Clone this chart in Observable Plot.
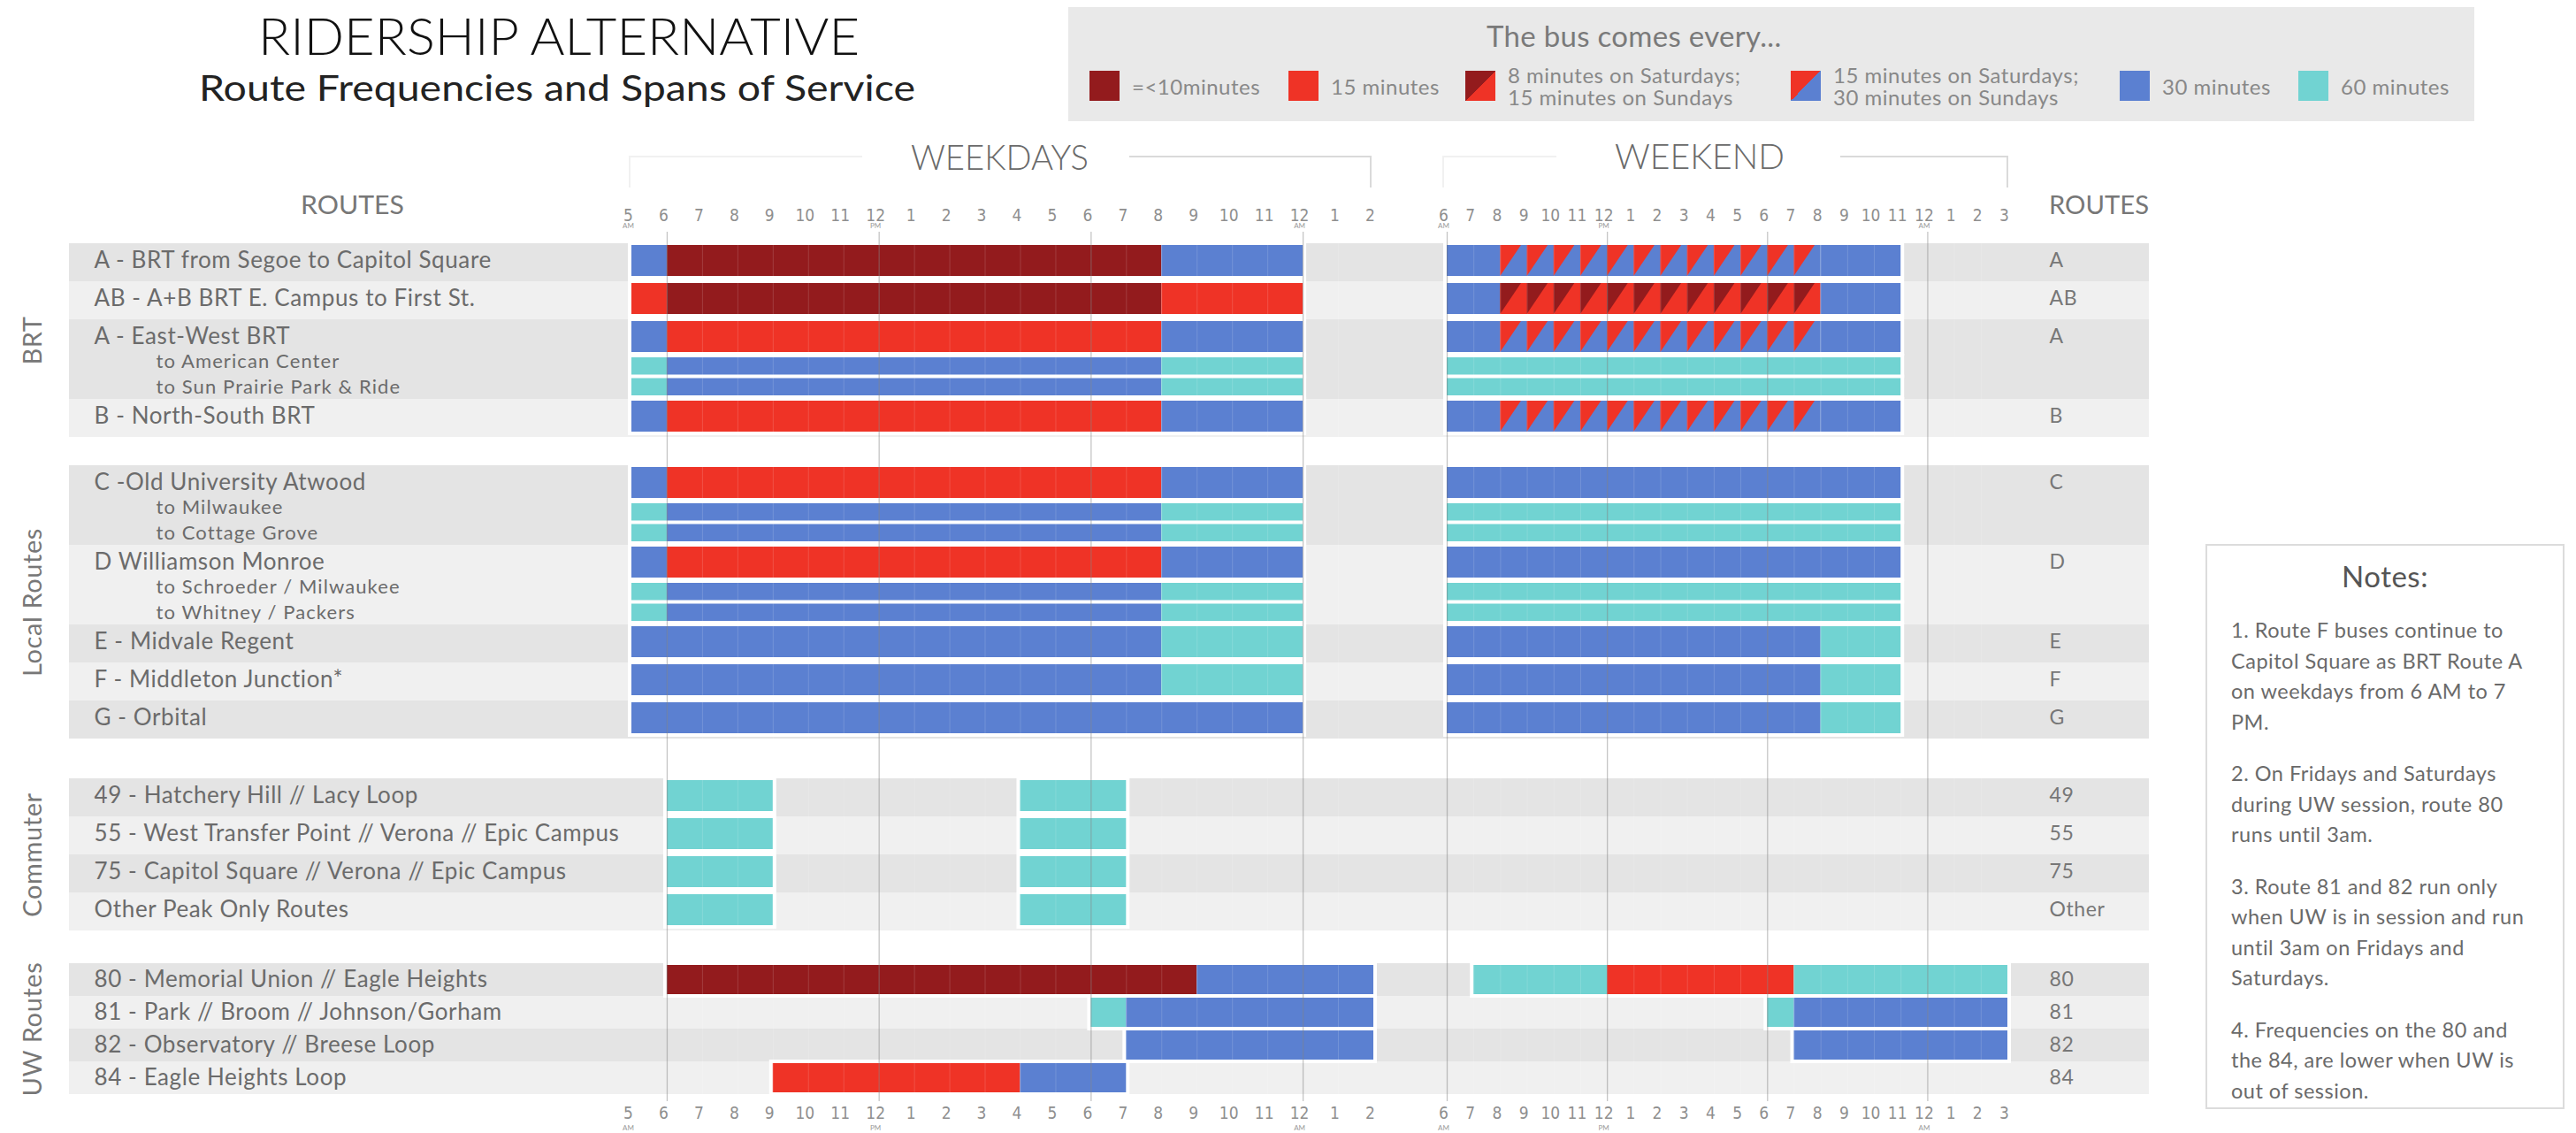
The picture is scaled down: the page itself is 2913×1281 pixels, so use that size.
<!DOCTYPE html>
<html>
<head>
<meta charset="utf-8">
<script src="https://cdn.jsdelivr.net/npm/d3@7"></script>
<script src="https://cdn.jsdelivr.net/npm/@observablehq/plot@0.6"></script>
<style>
  html, body { margin: 0; padding: 0; background: #fff; }
  #root { position: relative; width: 2913px; height: 1281px; overflow: hidden; font-family: Lato, "Open Sans", sans-serif; }
  .layer { position: absolute; left: 0; top: 0; }
  #legend { position: absolute; left: 1208px; top: 8px; width: 1590px; height: 129px; background: #e9e9e9; }
  #legend .head { position: absolute; left: 473px; top: 12px; font-size: 33px; color: #7a7a7a; white-space: nowrap; letter-spacing: 0.3px; }
  #legend .item { position: absolute; top: 72px; height: 34px; display: flex; align-items: center; }
  #legend .sw { width: 34px; height: 34px; flex: none; }
  #legend .lab { margin-left: 14px; font-size: 24px; color: #888; line-height: 25px; letter-spacing: 0.5px; white-space: nowrap; }
  #notes { position: absolute; left: 2494px; top: 615px; width: 406px; height: 639px; border: 2px solid #dcdcdc; background: #fff; box-sizing: border-box; }
  #notes h3 { margin: 0; position: absolute; top: 14px; width: 100%; text-align: center; font-weight: 400; font-size: 33px; color: #555; letter-spacing: 0.5px; }
  #notes .body { position: absolute; left: 27px; top: 78px; width: 378px; font-size: 23.5px; line-height: 34.5px; color: #6a6a6a; letter-spacing: 0.5px; white-space: nowrap; }
  #notes p { margin: 0 0 24px 0; }
</style>
</head>
<body>
<div id="root"></div>
<script>
// ---------------- DATA ----------------
const groupNames = ["BRT", "Local Routes", "Commuter", "UW Routes"];

const routeNames = [
  "A - BRT from Segoe to Capitol Square",
  "AB - A+B BRT E. Campus to First St.",
  "A - East-West BRT",
  "to American Center",
  "to Sun Prairie Park & Ride",
  "B - North-South BRT",
  "C -Old University Atwood",
  "to Milwaukee",
  "to Cottage Grove",
  "D Williamson Monroe",
  "to Schroeder / Milwaukee",
  "to Whitney / Packers",
  "E - Midvale Regent",
  "F - Middleton Junction*",
  "G - Orbital",
  "49 - Hatchery Hill // Lacy Loop",
  "55 - West Transfer Point // Verona // Epic Campus",
  "75 - Capitol Square // Verona // Epic Campus",
  "Other Peak Only Routes",
  "80 - Memorial Union // Eagle Heights",
  "81 - Park // Broom // Johnson/Gorham",
  "82 - Observatory // Breese Loop",
  "84 - Eagle Heights Loop"
];
const routeGroup  = [0,0,0,0,0,0, 1,1,1,1,1,1,1,1,1, 2,2,2,2, 3,3,3,3];
const routeBranch = [0,0,0,1,1,0, 0,1,1,0,1,1,0,0,0, 0,0,0,0, 0,0,0,0];
const routeCodes  = ["A","AB","A","","","B", "C","","","D","","","E","F","G", "49","55","75","Other", "80","81","82","84"];

const weekdayHours = d3.range(5, 27);
const weekdayHourLabels = ["5","6","7","8","9","10","11","12","1","2","3","4","5","6","7","8","9","10","11","12","1","2"];
const weekendHours = d3.range(6, 28);
const weekendHourLabels = ["6","7","8","9","10","11","12","1","2","3","4","5","6","7","8","9","10","11","12","1","2","3"];
const weekdayMeridiem = [[5, "AM"], [12, "PM"], [24, "AM"]];
const weekendMeridiem = [[6, "AM"], [12, "PM"], [24, "AM"]];
const majorHours = [6, 12, 18, 24];

const freqKeys = ["le10", "15", "30", "60"];
const freqSplits = { sat8sun15: ["le10", "15"], sat15sun30: ["15", "30"] };
const legendKeys = ["le10", "15", "sat8sun15", "sat15sun30", "30", "60"];
const legendLabels = ["=<10minutes", "15 minutes", "8 minutes on Saturdays;\n15 minutes on Sundays",
  "15 minutes on Saturdays;\n30 minutes on Sundays", "30 minutes", "60 minutes"];

// [route index, start hour, end hour, frequency]
const weekdaySegments = [
  [0,5,6,"30"],[0,6,20,"le10"],[0,20,24,"30"],
  [1,5,6,"15"],[1,6,20,"le10"],[1,20,24,"15"],
  [2,5,6,"30"],[2,6,20,"15"],[2,20,24,"30"],
  [3,5,6,"60"],[3,6,20,"30"],[3,20,24,"60"],
  [4,5,6,"60"],[4,6,20,"30"],[4,20,24,"60"],
  [5,5,6,"30"],[5,6,20,"15"],[5,20,24,"30"],
  [6,5,6,"30"],[6,6,20,"15"],[6,20,24,"30"],
  [7,5,6,"60"],[7,6,20,"30"],[7,20,24,"60"],
  [8,5,6,"60"],[8,6,20,"30"],[8,20,24,"60"],
  [9,5,6,"30"],[9,6,20,"15"],[9,20,24,"30"],
  [10,5,6,"60"],[10,6,20,"30"],[10,20,24,"60"],
  [11,5,6,"60"],[11,6,20,"30"],[11,20,24,"60"],
  [12,5,20,"30"],[12,20,24,"60"],
  [13,5,20,"30"],[13,20,24,"60"],
  [14,5,24,"30"],
  [15,6,9,"60"],[15,16,19,"60"],
  [16,6,9,"60"],[16,16,19,"60"],
  [17,6,9,"60"],[17,16,19,"60"],
  [18,6,9,"60"],[18,16,19,"60"],
  [19,6,21,"le10"],[19,21,26,"30"],
  [20,18,19,"60"],[20,19,26,"30"],
  [21,19,26,"30"],
  [22,9,16,"15"],[22,16,19,"30"]
];
const weekendSegments = [
  [0,6,8,"30"],[0,8,20,"sat15sun30"],[0,20,23,"30"],
  [1,6,8,"30"],[1,8,20,"sat8sun15"],[1,20,23,"30"],
  [2,6,8,"30"],[2,8,20,"sat15sun30"],[2,20,23,"30"],
  [3,6,23,"60"],
  [4,6,23,"60"],
  [5,6,8,"30"],[5,8,20,"sat15sun30"],[5,20,23,"30"],
  [6,6,23,"30"],
  [7,6,23,"60"],
  [8,6,23,"60"],
  [9,6,23,"30"],
  [10,6,23,"60"],
  [11,6,23,"60"],
  [12,6,20,"30"],[12,20,23,"60"],
  [13,6,20,"30"],[13,20,23,"60"],
  [14,6,20,"30"],[14,20,23,"60"],
  [19,7,12,"60"],[19,12,19,"15"],[19,19,27,"60"],
  [20,18,19,"60"],[20,19,27,"30"],
  [21,19,27,"30"]
];

const notes = [
  ["1. Route F buses continue to", "Capitol Square as BRT Route A", "on weekdays from 6 AM to 7", "PM."],
  ["2. On Fridays and Saturdays", "during UW session, route 80", "runs until 3am."],
  ["3. Route 81 and 82 run only", "when UW is in session and run", "until 3am on Fridays and", "Saturdays."],
  ["4. Frequencies on the 80 and", "the 84, are lower when UW is", "out of session."]
];

// ---------------- STYLE / LAYOUT ----------------
const PALETTE = { le10: "#931b1d", "15": "#ef3326", "30": "#5b80d1", "60": "#71d3d2" };
const W = 2913, H = 1281, FT = 262, FB = 1245;
const SLOT = { main: 43, sub: 23.5, uw: 37 };
const INSET = { main: [2, 6], sub: [0, 4], uw: [2, 2] };
const GROUP_LEAD = [13, 32, 45, 37];
const SUB_LABEL_SHIFT = [-5, 0];
const TRI = 0.78;
const FONT = "Lato, 'Open Sans', sans-serif";
const TICKFONT = "'Liberation Sans Narrow', 'DejaVu Sans Condensed', 'Roboto', sans-serif";

const rows = [], bands = [], groupSpans = [];
{
  let cursor = 0, g = -1, shade = 0, subIdx = 0;
  routeNames.forEach((name, i) => {
    const grp = routeGroup[i];
    if (grp !== g) { cursor += GROUP_LEAD[grp]; g = grp; shade = -1; groupSpans[grp] = { name: groupNames[grp], top: cursor, bottom: cursor }; }
    const kind = routeBranch[i] ? "sub" : grp === 3 ? "uw" : "main";
    const top = cursor, bottom = cursor + SLOT[kind];
    if (kind !== "sub") { shade++; subIdx = 0; bands.push({ top, bottom, dark: shade % 2 === 0 }); }
    else { bands[bands.length - 1].bottom = bottom; }
    const barTop = top + INSET[kind][0], barBottom = bottom - INSET[kind][1];
    const labelY = (barTop + barBottom) / 2 + (kind === "sub" ? SUB_LABEL_SHIFT[subIdx++] : 0);
    rows.push({ name, code: routeCodes[i], kind, top, bottom, barTop, barBottom, labelY });
    cursor = bottom; groupSpans[grp].bottom = cursor;
  });
}
const yOpt = { domain: [0, FB - FT], range: [FT, FB], axis: null };

const root = document.getElementById("root");
function addLayer(node) { node.classList.add("layer"); node.style.position = "absolute"; node.style.left = "0px"; node.style.top = "0px"; root.appendChild(node); }

// Frame plot: row bands and labels
const framePlot = Plot.plot({
  width: W, height: H, marginLeft: 78, marginRight: W - 2430, marginTop: FT, marginBottom: H - FB,
  x: { domain: [0, 1], axis: null }, y: yOpt,
  style: { background: "transparent", fontFamily: FONT, overflow: "visible", letterSpacing: "0.6px" },
  marks: [
    Plot.rect(bands.filter(d => d.dark), { x1: 0, x2: 1, y1: "top", y2: "bottom", fill: "#e4e4e4" }),
    Plot.rect(bands.filter(d => !d.dark), { x1: 0, x2: 1, y1: "top", y2: "bottom", fill: "#f0f0f0" }),
    Plot.text(rows.filter(r => r.kind !== "sub"), { x: 0, y: "labelY", text: "name", textAnchor: "start", dx: 28, fontSize: 26, fill: "#6b6b6b", fontFamily: FONT }),
    Plot.text(rows.filter(r => r.kind === "sub"), { x: 0, y: "labelY", text: "name", textAnchor: "start", dx: 98, fontSize: 22, fill: "#6b6b6b", fontFamily: FONT }),
    Plot.text(rows.filter(r => r.code), { x: 1, y: "labelY", text: "code", textAnchor: "start", dx: -113, fontSize: 23, fill: "#777", fontFamily: FONT }),
    Plot.text(groupSpans, { x: 0, y: d => (d.top + d.bottom) / 2, text: "name", rotate: -90, dx: -41, fontSize: 29, fill: "#777", fontFamily: FONT })
  ]
});
// widen the branch labels a little (letter spacing) to match the reference
d3.select(framePlot).selectAll('g[aria-label="text"]').filter((d, i) => i === 1).style("letter-spacing", "1.1px");
addLayer(framePlot);

function schedule(segments, xDomain, left, right, hours, hourLabels, meridiem) {
  const segs = segments.map(([row, start, end, freq]) => ({ ...rows[row], start, end, freq }));
  const base = segs.map(s => ({ ...s, key: freqSplits[s.freq] ? freqSplits[s.freq][1] : s.freq }));
  const tris = segs.filter(s => freqSplits[s.freq]).flatMap(s => d3.range(s.start, s.end).flatMap(h => [
    { id: s.name + h, x: h, y1: s.barTop, y2: s.barBottom, key: freqSplits[s.freq][0] },
    { id: s.name + h, x: h + TRI, y1: s.barTop, y2: s.barTop, key: freqSplits[s.freq][0] }
  ]));
  const tickStyle = { fontSize: 19, fill: "#8f8f8f", fontFamily: TICKFONT, dx: -4 };
  return Plot.plot({
    width: W, height: H, marginLeft: left, marginRight: W - right, marginTop: FT, marginBottom: H - FB,
    x: { domain: xDomain, axis: null }, y: yOpt,
    color: { domain: freqKeys, range: freqKeys.map(k => PALETTE[k]) },
    style: { background: "transparent", fontFamily: FONT, overflow: "visible" },
    marks: [
      Plot.rect(segs, { x1: "start", x2: "end", y1: "barTop", y2: "barBottom", fill: "white", stroke: "white", strokeWidth: 8 }),
      Plot.rect(base, { x1: "start", x2: "end", y1: "barTop", y2: "barBottom", fill: "key" }),
      Plot.areaY(tris, { x: "x", y1: "y1", y2: "y2", z: "id", fill: "key" }),
      Plot.ruleX(d3.range(xDomain[0] + 1, xDomain[1]), { stroke: "white", strokeOpacity: 0.15 }),
      Plot.ruleX(majorHours, { stroke: "#6f6f6f", strokeOpacity: 0.4, strokeWidth: 1.3 }),
      Plot.text(hours, { x: d => d, text: (d, i) => hourLabels[i], frameAnchor: "top", dy: -26, ...tickStyle }),
      Plot.text(hours, { x: d => d, text: (d, i) => hourLabels[i], frameAnchor: "bottom", dy: 19, ...tickStyle }),
      Plot.text(meridiem, { x: d => d[0], text: d => d[1], frameAnchor: "top", dy: -10, dx: -4, fontSize: 8, fill: "#999" }),
      Plot.text(meridiem, { x: d => d[0], text: d => d[1], frameAnchor: "bottom", dy: 32, dx: -4, fontSize: 8, fill: "#999" })
    ]
  });
}

addLayer(schedule(weekdaySegments, [5, 26], 714, 1553, weekdayHours, weekdayHourLabels, weekdayMeridiem));
addLayer(schedule(weekendSegments, [6, 27], 1636, 2270, weekendHours, weekendHourLabels, weekendMeridiem));

// Titles and headers
const ns = "http://www.w3.org/2000/svg";
const over = document.createElementNS(ns, "svg");
over.setAttribute("width", W); over.setAttribute("height", H);
over.innerHTML = `
  <text x="292" y="62" font-size="58" textLength="680" lengthAdjust="spacingAndGlyphs" fill="#111" font-family="${FONT}" font-weight="300">RIDERSHIP ALTERNATIVE</text>
  <text x="225" y="114" font-size="40" textLength="810" lengthAdjust="spacingAndGlyphs" fill="#222" font-family="${FONT}">Route Frequencies and Spans of Service</text>
  <text x="1030" y="192" font-size="40" textLength="201" lengthAdjust="spacingAndGlyphs" fill="#6a6a6a" font-family="${FONT}" font-weight="300">WEEKDAYS</text>
  <text x="1826" y="191" font-size="40" textLength="192" lengthAdjust="spacingAndGlyphs" fill="#6a6a6a" font-family="${FONT}" font-weight="300">WEEKEND</text>
  <text x="340" y="242" font-size="28" textLength="117" lengthAdjust="spacingAndGlyphs" fill="#777" font-family="${FONT}">ROUTES</text>
  <text x="2317" y="242" font-size="28" textLength="113" lengthAdjust="spacingAndGlyphs" fill="#777" font-family="${FONT}">ROUTES</text>
  <polyline points="712,212 712,177 975,177" fill="none" stroke="#f1f1f1" stroke-width="2"/>
  <polyline points="1277,177 1550,177 1550,212" fill="none" stroke="#dadada" stroke-width="2"/>
  <polyline points="1632,212 1632,177 1760,177" fill="none" stroke="#f1f1f1" stroke-width="2"/>
  <polyline points="2081,177 2270,177 2270,212" fill="none" stroke="#dadada" stroke-width="2"/>
`;
addLayer(over);

// Legend
const legend = document.createElement("div");
legend.id = "legend";
legend.innerHTML = `<div class="head">The bus comes every...</div>`;
const legendLeft = [24, 249, 449, 817, 1189, 1391];
legendKeys.forEach((k, i) => {
  const item = document.createElement("div");
  item.className = "item";
  item.style.left = legendLeft[i] + "px";
  const sw = document.createElement("div");
  sw.className = "sw";
  sw.style.background = freqSplits[k]
    ? `linear-gradient(to bottom right, ${PALETTE[freqSplits[k][0]]} 50%, ${PALETTE[freqSplits[k][1]]} 50%)`
    : PALETTE[k];
  const lab = document.createElement("div");
  lab.className = "lab";
  lab.innerHTML = legendLabels[i].split("\n").join("<br>");
  item.appendChild(sw); item.appendChild(lab);
  legend.appendChild(item);
});
root.appendChild(legend);

// Notes
const notesBox = document.createElement("div");
notesBox.id = "notes";
notesBox.innerHTML = `<h3>Notes:</h3><div class="body">${notes.map(p => `<p>${p.join("<br>")}</p>`).join("")}</div>`;
root.appendChild(notesBox);
</script>
</body>
</html>
